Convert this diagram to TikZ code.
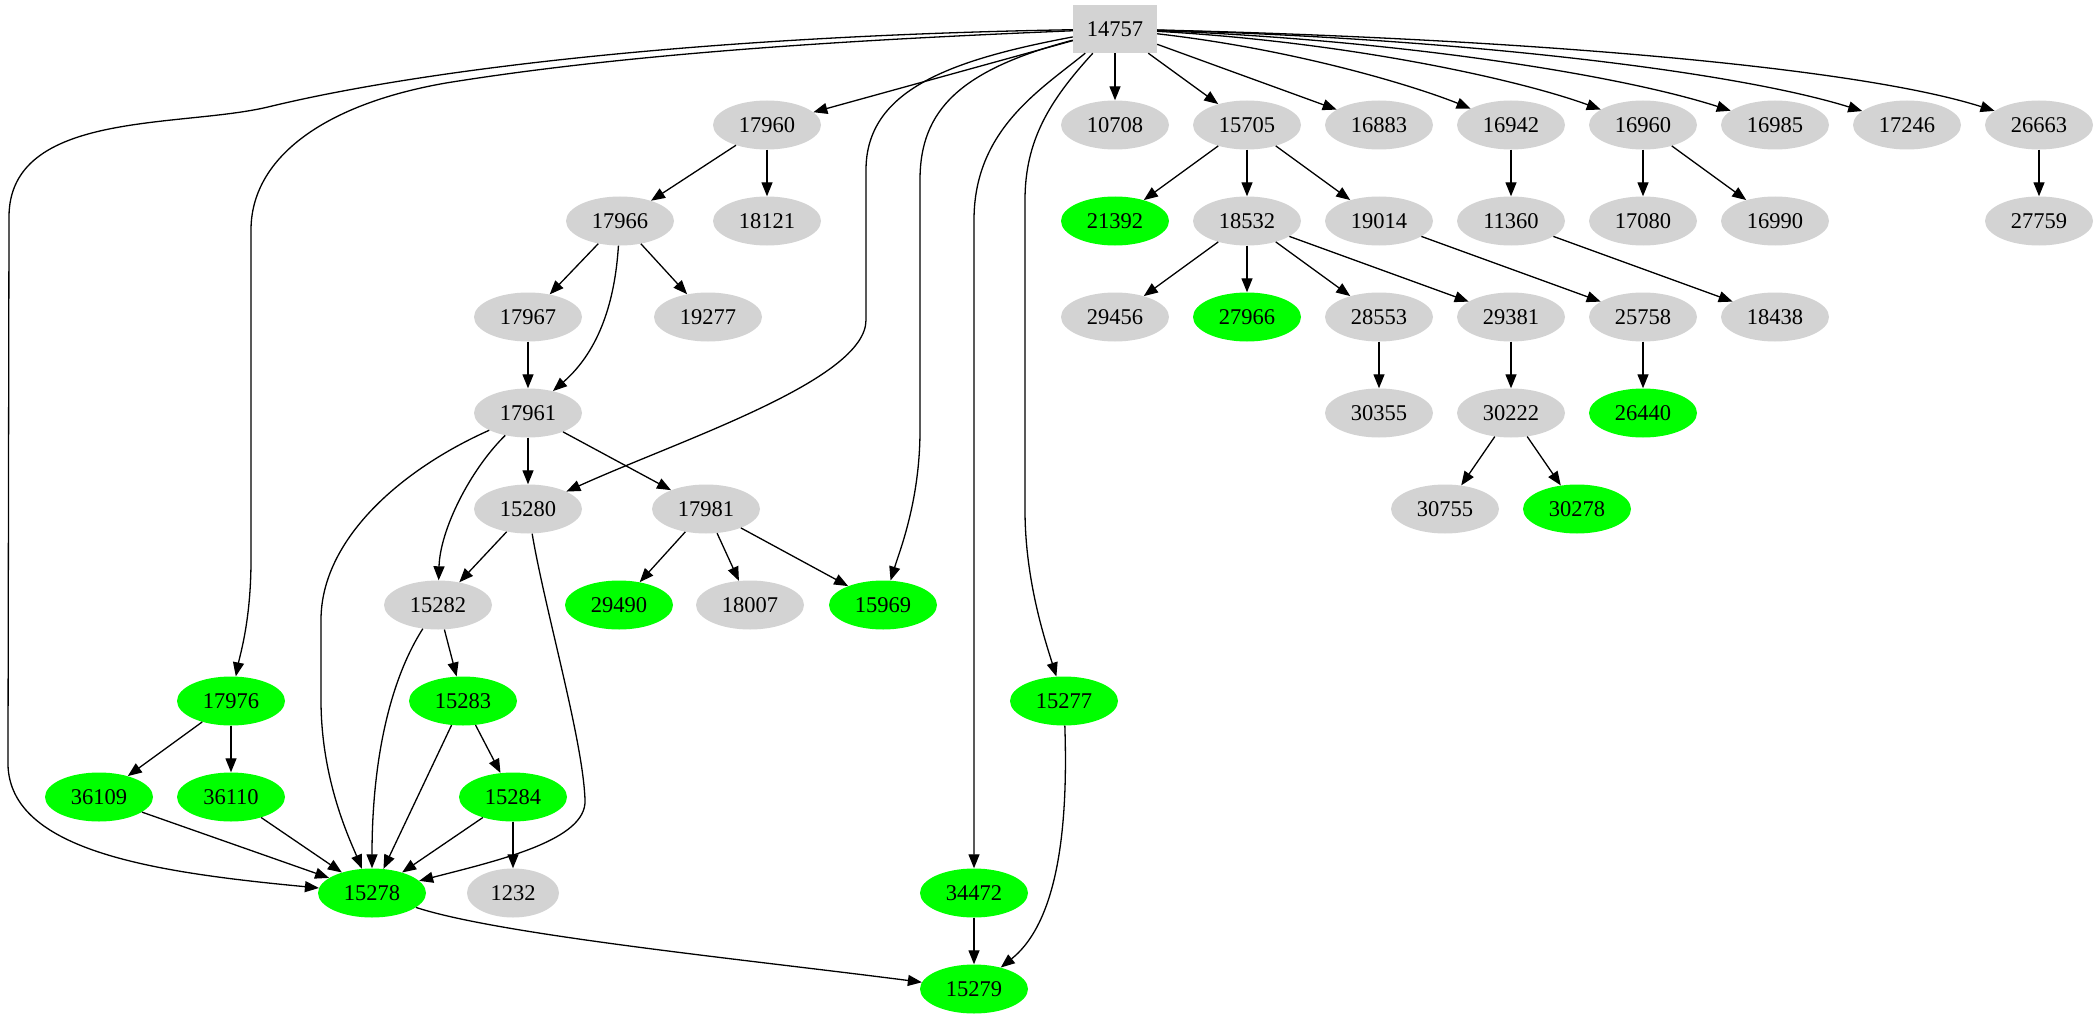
\documentclass[tikz,border=0pt]{standalone}
\usepackage{fontspec}
\setmainfont{Liberation Serif}
\usetikzlibrary{shapes.geometric,arrows.meta}
\definecolor{graycol}{HTML}{D3D3D3}
\definecolor{greencol}{HTML}{00FF00}
\begin{document}
\begin{tikzpicture}[x=1pt,y=-1pt,
  every node/.style={font=\fontsize{22.5}{26}\selectfont, inner sep=0pt},
  gn/.style={ellipse, fill=graycol, minimum width=108pt, minimum height=49pt},
  gr/.style={ellipse, fill=greencol, minimum width=108pt, minimum height=49pt},
  topbox/.style={rectangle, fill=graycol, minimum width=84pt, minimum height=48pt},
  arr/.style={draw, line width=1.3pt, -{Triangle[length=14pt,width=11pt]}}]
\useasboundingbox (0,0) rectangle (2098,1019);
% nodes
\node[topbox] (n14757) at (1115,29) {14757};
\node[gn] (n17960) at (767,125) {17960};
\node[gn] (n10708) at (1115,125) {10708};
\node[gn] (n15705) at (1247,125) {15705};
\node[gn] (n16883) at (1379,125) {16883};
\node[gn] (n16942) at (1511,125) {16942};
\node[gn] (n16960) at (1643,125) {16960};
\node[gn] (n16985) at (1775,125) {16985};
\node[gn] (n17246) at (1907,125) {17246};
\node[gn] (n26663) at (2039,125) {26663};
\node[gn] (n17966) at (620,221) {17966};
\node[gn] (n18121) at (767,221) {18121};
\node[gr] (n21392) at (1115,221) {21392};
\node[gn] (n18532) at (1247,221) {18532};
\node[gn] (n19014) at (1379,221) {19014};
\node[gn] (n11360) at (1511,221) {11360};
\node[gn] (n17080) at (1643,221) {17080};
\node[gn] (n16990) at (1775,221) {16990};
\node[gn] (n27759) at (2039,221) {27759};
\node[gn] (n17967) at (528,317) {17967};
\node[gn] (n19277) at (708,317) {19277};
\node[gn] (n29456) at (1115,317) {29456};
\node[gr] (n27966) at (1247,317) {27966};
\node[gn] (n28553) at (1379,317) {28553};
\node[gn] (n29381) at (1511,317) {29381};
\node[gn] (n25758) at (1643,317) {25758};
\node[gn] (n18438) at (1775,317) {18438};
\node[gn] (n17961) at (528,413) {17961};
\node[gn] (n30355) at (1379,413) {30355};
\node[gn] (n30222) at (1511,413) {30222};
\node[gr] (n26440) at (1643,413) {26440};
\node[gn] (n15280) at (528,509) {15280};
\node[gn] (n17981) at (706,509) {17981};
\node[gn] (n30755) at (1445,509) {30755};
\node[gr] (n30278) at (1577,509) {30278};
\node[gn] (n15282) at (438,605) {15282};
\node[gr] (n29490) at (619,605) {29490};
\node[gn] (n18007) at (750,605) {18007};
\node[gr] (n15969) at (883,605) {15969};
\node[gr] (n17976) at (231,701) {17976};
\node[gr] (n15283) at (463,701) {15283};
\node[gr] (n15277) at (1064,701) {15277};
\node[gr] (n36109) at (99,797) {36109};
\node[gr] (n36110) at (231,797) {36110};
\node[gr] (n15284) at (513,797) {15284};
\node[gr] (n15278) at (372,893) {15278};
\node[gn, minimum width=92pt] (n1232) at (513,893) {1232};
\node[gr] (n34472) at (974,893) {34472};
\node[gr] (n15279) at (974,989) {15279};
% edges from 14757
\draw[arr] (n14757) .. controls (700,36) and (420,70) .. (268,107)
  .. controls (180,128) and (9,110) .. (9,217) -- (8,760)
  .. controls (5,850) and (150,872) .. (n15278);
\draw[arr] (n14757) .. controls (900,38) and (650,50) .. (446,83)
  .. controls (320,105) and (251,160) .. (251,230) -- (251,560)
  .. controls (251,620) and (240,655) .. (n17976);
\draw[arr] (n14757) -- (n17960);
\draw[arr] (n14757) .. controls (950,60) and (866,90) .. (866,170) -- (866,320)
  .. controls (866,380) and (680,440) .. (n15280);
\draw[arr] (n14757) .. controls (960,70) and (920,110) .. (920,180) -- (920,430)
  .. controls (920,500) and (900,550) .. (n15969);
\draw[arr] (n14757) .. controls (1040,90) and (974,130) .. (974,220) -- (n34472);
\draw[arr] (n14757) .. controls (1050,100) and (1025,140) .. (1025,200) -- (1025,510)
  .. controls (1025,580) and (1045,640) .. (n15277);
\draw[arr] (n14757) -- (n10708);
\draw[arr] (n14757) -- (n15705);
\draw[arr] (n14757) -- (n16883);
\draw[arr] (n14757) .. controls (1300,50) and (1420,88) .. (n16942);
\draw[arr] (n14757) .. controls (1350,42) and (1520,80) .. (n16960);
\draw[arr] (n14757) .. controls (1400,40) and (1620,75) .. (n16985);
\draw[arr] (n14757) .. controls (1450,38) and (1730,70) .. (n17246);
\draw[arr] (n14757) .. controls (1500,38) and (1850,65) .. (n26663);
% left part
\draw[arr] (n17960) -- (n17966);
\draw[arr] (n17960) -- (n18121);
\draw[arr] (n17966) -- (n17967);
\draw[arr] (n17966) .. controls (615,300) and (600,350) .. (n17961);
\draw[arr] (n17966) -- (n19277);
\draw[arr] (n17967) -- (n17961);
\draw[arr] (n17961) .. controls (400,470) and (321,540) .. (321,620) -- (321,700)
  .. controls (321,780) and (350,840) .. (n15278);
\draw[arr] (n17961) .. controls (470,470) and (440,530) .. (n15282);
\draw[arr] (n17961) -- (n15280);
\draw[arr] (n17961) -- (n17981);
\draw[arr] (n15280) -- (n15282);
\draw[arr] (n15280) .. controls (545,610) and (583,740) .. (585,800)
  .. controls (587,840) and (500,860) .. (n15278);
\draw[arr] (n17981) -- (n29490);
\draw[arr] (n17981) -- (n18007);
\draw[arr] (n17981) -- (n15969);
\draw[arr] (n15282) .. controls (390,680) and (372,760) .. (n15278);
\draw[arr] (n15282) -- (n15283);
\draw[arr] (n15283) -- (n15278);
\draw[arr] (n15283) -- (n15284);
\draw[arr] (n15284) -- (n15278);
\draw[arr] (n15284) -- (n1232);
\draw[arr] (n17976) -- (n36109);
\draw[arr] (n17976) -- (n36110);
\draw[arr] (n36109) -- (n15278);
\draw[arr] (n36110) -- (n15278);
\draw[arr] (n15278) .. controls (500,935) and (750,960) .. (n15279);
\draw[arr] (n34472) -- (n15279);
\draw[arr] (n15277) .. controls (1068,820) and (1060,920) .. (n15279);
% right part
\draw[arr] (n15705) -- (n21392);
\draw[arr] (n15705) -- (n18532);
\draw[arr] (n15705) -- (n19014);
\draw[arr] (n18532) -- (n29456);
\draw[arr] (n18532) -- (n27966);
\draw[arr] (n18532) -- (n28553);
\draw[arr] (n18532) -- (n29381);
\draw[arr] (n28553) -- (n30355);
\draw[arr] (n29381) -- (n30222);
\draw[arr] (n30222) -- (n30755);
\draw[arr] (n30222) -- (n30278);
\draw[arr] (n19014) -- (n25758);
\draw[arr] (n25758) -- (n26440);
\draw[arr] (n16942) -- (n11360);
\draw[arr] (n11360) -- (n18438);
\draw[arr] (n16960) -- (n17080);
\draw[arr] (n16960) -- (n16990);
\draw[arr] (n26663) -- (n27759);
\end{tikzpicture}
\end{document}
